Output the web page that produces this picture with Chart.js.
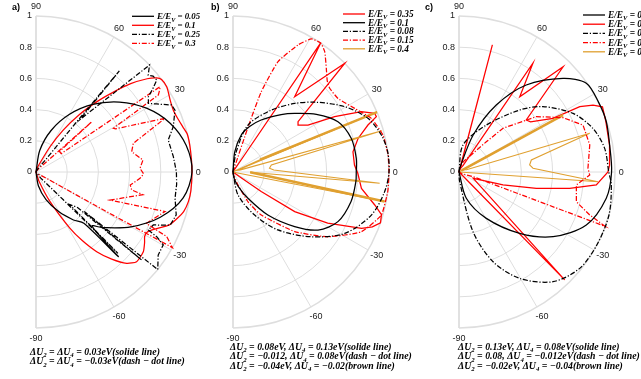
<!DOCTYPE html>
<html>
<head>
<meta charset="utf-8">
<script src="https://cdn.jsdelivr.net/npm/chart.js@4.4.1/dist/chart.umd.min.js"></script>
<style>
  body { margin: 0; background: #fff; width: 641px; height: 379px; overflow: hidden; position: relative; }
  canvas { position: absolute; top: 0; }
</style>
</head>
<body>
<canvas id="ca" width="206" height="379" style="left:0px"></canvas>
<canvas id="cb" width="214" height="379" style="left:206px"></canvas>
<canvas id="cc" width="221" height="379" style="left:420px"></canvas>
<script>
// ---- data: each curve is a list of [angle in degrees, radius] ----
const rTicks = [0, 0.2, 0.4, 0.6, 0.8, 1];
const rTickLabels = ['0', '0.2', '0.4', '0.6', '0.8', '1'];
const angleTicks = [90, 60, 30, 0, -30, -60, -90];
const spokes = [60, 30, 0, -30, -60];

// panel a
const aLegend = ['0.05', '0.1', '0.25', '0.3'];
const aBlackSolid = [[90,0],[80,0.141],[70,0.283],[60,0.425],[50,0.565],[40,0.698],[30,0.818],[20,0.915],[10,0.978],[0,1.0],
  [-10,0.958],[-20,0.848],[-30,0.703],[-40,0.554],[-44,0.5],[-45.8,0.757],[-47,0.45],[-52,0.39],[-60,0.295],[-70,0.188],[-80,0.091],[-90,0]];
const aRedSolid = [[90,0],[75,0.02],[68,0.05],[61,0.185],[57,0.32],[53,0.46],[49,0.6],[46,0.71],[43,0.83],[40,0.93],[38,0.98],[36.4,1.0],
  [33,1.0],[28,0.975],[24,0.965],[21,0.97],[17,0.985],[14,1.0],[8,1.0],[0,1.0],[-7,1.0],[-11,0.995],[-15,0.98],[-18.5,0.95],[-21.6,0.92],
  [-26,0.84],[-28.5,0.81],[-30.7,0.81],[-33,0.83],[-36.6,0.857],[-41.7,0.864],[-45.2,0.825],[-49,0.74],[-52.7,0.642],[-56,0.53],
  [-58.9,0.42],[-64.6,0.21],[-72,0.06],[-90,0]];
const aBlackDash = [[90,0],[62,0.02],[52,0.1],[51,0.4],[50.5,0.84],[50,0.44],[43.3,1.0],[40.8,0.95],[39.3,0.97],[37.3,0.973],[35.5,0.92],
  [33.8,0.867],[31.4,0.844],[29.4,0.888],[26.3,0.97],[24,0.975],[18.3,0.927],[13.6,0.872],[6.4,0.886],[0,0.9],[-5,0.905],[-10.7,0.907],
  [-17,0.94],[-21.6,0.925],[-24.3,0.825],[-27.3,0.81],[-28.2,0.878],[-29.8,0.94],[-34.2,0.947],[-38.7,1.0],[-39.3,0.4],[-39.8,0.88],
  [-40.5,0.35],[-44,0.3],[-44.8,0.74],[-45.5,0.25],[-52,0.05],[-90,0]];
const aRedDash = [[90,0],[55,0.02],[43,0.15],[42,0.48],[41.2,0.2],[36,0.2],[34.5,0.965],[33.5,0.95],[32.2,0.927],[29.5,0.57],[28.5,0.58],
  [22.6,0.896],[16.4,0.65],[12,0.627],[6.4,0.69],[2,0.667],[-1,0.69],[-3.5,0.668],[-7.9,0.61],[-10.6,0.624],[-12,0.7],[-20.8,0.507],
  [-17,0.865],[-25,0.78],[-26.3,0.935],[-29,1.0],[-29.3,0.55],[-29.6,0.3],[-31,0.08],[-60,0.01],[-90,0]];

// panel b
const bLegend = ['0.35', '0.1', '0.08', '0.15', '0.4'];
const bRedSolid = [[90,0],[62,0.01],[56,0.12],[55.8,1.0],[50.7,0.624],[44.2,1.0],[37.7,0.527],[35.8,0.514],[32,0.567],[28.6,0.742],
  [25.2,0.909],[22.5,0.983],[21.1,0.985],[19.2,0.916],[15,0.83],[9.6,0.78],[3.3,0.78],[-0.6,0.8],[-7.3,0.83],[-13.1,0.933],[-16,0.99],
  [-19,1.0],[-21.5,0.96],[-23.7,0.9],[-28.4,0.69],[-32.7,0.47],[-34.8,0.22],[-36,0.05],[-90,0]];
const bBlackSolid = [[90,0],[85,0.13],[77.4,0.243],[70,0.31],[61.6,0.379],[50,0.48],[43.6,0.545],[34.7,0.65],[25.6,0.746],[15.9,0.788],
  [6.4,0.795],[0,0.79],[-4.5,0.79],[-14,0.78],[-25.3,0.744],[-34.3,0.66],[-41.5,0.528],[-51,0.355],[-60.4,0.194],[-70,0.1],[-80,0.04],[-90,0]];
const bBlackDash = [[90,0],[80.8,0.132],[72.3,0.316],[58.2,0.467],[48,0.591],[40,0.696],[30.3,0.83],[21.7,0.931],[14,0.98],[7.5,1.0],[0,1.0],
  [-7.4,0.98],[-17.3,0.929],[-28.8,0.817],[-39.6,0.651],[-52.2,0.47],[-63.3,0.309],[-77.7,0.15],[-90,0]];
const bRedDash = [[90,0],[73,0.02],[71.5,0.3],[70.6,0.546],[67.8,0.764],[62.9,0.915],[59.5,0.99],[55.8,1.0],[52.7,0.97],[48,0.894],
  [44,0.84],[40.9,0.82],[35,0.822],[27.6,0.88],[21.2,0.951],[13.8,0.99],[6.3,1.0],[0,1.0],[-7,1.0],[-16.2,0.99],[-25,0.907],
  [-34.3,0.737],[-44,0.55],[-56.7,0.33],[-63,0.22],[-69,0.09],[-80,0.02],[-90,0]];
const bGold = [[90,0],[26,0.01],[24.5,0.19],[22.6,1.0],[22.3,0.03],[16,0.05],[15.5,0.99],[10.4,0.25],[6,0.235],[2.8,0.262],
  [-4.4,0.943],[-1,0.11],[-11,0.99],[-11.3,0.03],[-90,0]];
const bGoldThickUpper = [[24.5,0.19],[22.6,1.0]];
const bGoldThickLower = [[-1,0.11],[-11,0.99]];

// panel c
const cLegend = ['0.05', '0.1', '0.25', '0.3', '0.4'];
const cBlackSolid = [[90,0],[78,0.03],[69,0.254],[60.9,0.491],[52.3,0.705],[42,0.897],[34.9,0.995],[26.6,1.0],[18.9,0.998],[10.2,0.981],
  [0,0.978],[-10.1,0.959],[-22.6,0.884],[-34.5,0.732],[-45.3,0.553],[-59.5,0.345],[-74.5,0.175],[-90,0]];
const cRedSolid = [[90,0],[76,0.02],[75.3,0.843],[74.3,0.02],[57.5,0.05],[55.8,0.843],[51.1,0.62],[45.3,0.949],[37.7,0.545],[35,0.56],
  [29.7,0.694],[28.4,0.88],[26.5,0.96],[24.4,1.01],[21,1.0],[18.9,0.995],[10,0.98],[2.6,0.966],[0,0.955],[-5.4,0.884],[-8.4,0.717],
  [-12,0.507],[-16.4,0.294],[-24,0.1],[-45.6,0.968],[-45.4,0.05],[-90,0]];
const cBlackDash = [[90,0],[81.5,0.175],[59.8,0.348],[45.6,0.556],[37.9,0.682],[27.2,0.822],[18,0.903],[9.2,0.946],[0,0.96],[-4.9,0.98],
  [-15.9,1.0],[-27.4,1.0],[-38.6,0.99],[-49.4,0.926],[-60.3,0.785],[-69.2,0.615],[-76.8,0.393],[-86,0.062],[-90,0]];
const cRedDash = [[90,0],[70,0.04],[68,0.07],[47.9,0.261],[44.8,0.398],[35.6,0.61],[27.6,0.752],[20.7,0.85],[11.7,0.856],[1.7,0.827],
  [-1.3,0.838],[-6.3,0.757],[-14.2,0.776],[-18.2,0.882],[-20.4,1.0],[-18.5,0.1],[-30,0.02],[-90,0]];
const cGold = [[90,0],[30,0.01],[29.3,0.05],[28.7,0.76],[28.3,0.03],[17,0.05],[16.5,0.874],[9.4,0.47],[5.7,0.455],[2.9,0.475],
  [-4,0.893],[-3.6,0.05],[-90,0]];
const cGoldThick = [[29.5,0.02],[28.7,0.76]];

const aNotes = ['ΔU_2 = ΔU_4 = 0.03eV(solide line)', 'ΔU_2 = ΔU_4 = −0.03eV(dash − dot line)'];
const bNotes = ['ΔU_2 = 0.08eV, ΔU_4 = 0.13eV(solide line)', 'ΔU_2 = −0.012, ΔU_4 = 0.08eV(dash − dot line)',
  'ΔU_2 = −0.04eV, ΔU_4 = −0.02(brown line)'];
const cNotes = ['ΔU_2 = 0.13eV, ΔU_4 = 0.08eV(solide line)', 'ΔU_2 = 0.08, ΔU_4 = −0.012eV(dash − dot line)',
  'ΔU_2 = −0.02eV, ΔU_4 = −0.04(brown line)'];

// ---- styles ----
const DEG = Math.PI / 180;
const UNIT = 156;          // pixels per unit of radius
const POLE_Y = 172;
const GOLD = '#e0a030';
const RED = '#ff0000';
const DASHDOT = [5, 1.8, 1.2, 1.8];
const STYLES = {
  blackSolid: { color: '#000', dash: [], width: 1.25 },
  redSolid: { color: RED, dash: [], width: 1.25 },
  blackDash: { color: '#000', dash: DASHDOT, width: 1.25 },
  redDash: { color: RED, dash: DASHDOT, width: 1.25 },
  gold: { color: GOLD, dash: [], width: 1.1 },
  goldThick: { color: GOLD, dash: [], width: 2.5 }
};

function toXY(pts) {
  return pts.map(([t, r]) => ({ x: r * Math.cos(t * DEG), y: r * Math.sin(t * DEG) }));
}

// draws text where "_X" puts the single char X as a subscript
function rich(ctx, x, y, s, size, weight) {
  let i = 0;
  while (i < s.length) {
    if (s[i] === '_') {
      ctx.font = `italic ${weight} ${size * 0.7}px "Liberation Serif"`;
      ctx.fillText(s[i + 1], x, y + size * 0.25);
      x += ctx.measureText(s[i + 1]).width;
      i += 2;
    } else {
      let j = s.indexOf('_', i);
      if (j < 0) j = s.length;
      const run = s.slice(i, j);
      ctx.font = `italic ${weight} ${size}px "Liberation Serif"`;
      ctx.fillText(run, x, y);
      x += ctx.measureText(run).width;
      i = j;
    }
  }
}

const gridPlugin = {
  id: 'halfPolarGrid',
  beforeDatasetsDraw(chart) {
    const { ctx, scales: { x, y } } = chart;
    const cx = x.getPixelForValue(0), cy = y.getPixelForValue(0);
    const u = x.getPixelForValue(1) - cx;
    ctx.save();
    ctx.strokeStyle = '#dedede';
    rTicks.slice(1).forEach(r => {
      ctx.lineWidth = r === 1 ? 1.5 : 1;
      ctx.beginPath();
      ctx.arc(cx, cy, r * u, -Math.PI / 2, Math.PI / 2);
      ctx.stroke();
    });
    ctx.lineWidth = 1;
    spokes.forEach(a => {
      ctx.beginPath();
      ctx.moveTo(cx, cy);
      ctx.lineTo(x.getPixelForValue(Math.cos(a * DEG)), y.getPixelForValue(Math.sin(a * DEG)));
      ctx.stroke();
    });
    ctx.lineWidth = 1.8;
    ctx.beginPath();
    ctx.moveTo(cx, y.getPixelForValue(1));
    ctx.lineTo(cx, y.getPixelForValue(-1));
    ctx.stroke();

    ctx.fillStyle = '#1a1a1a';
    ctx.font = '9px "Liberation Sans", Arial, sans-serif';
    ctx.textAlign = 'right';
    ctx.textBaseline = 'middle';
    rTicks.forEach((r, i) => ctx.fillText(rTickLabels[i], cx - 4, y.getPixelForValue(r)));
    ctx.textAlign = 'center';
    angleTicks.forEach(a => {
      const rr = a === 0 ? 1.04 : 1.064;
      ctx.fillText(String(a), x.getPixelForValue(rr * Math.cos(a * DEG)), y.getPixelForValue(rr * Math.sin(a * DEG)) + 0.5);
    });
    ctx.restore();
  }
};

function makePanel(canvasId, poleX, series, legend, notes) {
  const canvas = document.getElementById(canvasId);
  const w = canvas.width, h = canvas.height;
  const textPlugin = {
    id: 'panelText',
    afterDatasetsDraw(chart) {
      const ctx = chart.ctx;
      ctx.save();
      ctx.fillStyle = '#000';
      ctx.textBaseline = 'alphabetic';
      ctx.font = 'bold 9px "Liberation Sans", Arial, sans-serif';
      ctx.fillText(legend.tag, legend.tagX, 10);
      legend.rows.forEach((row, i) => {
        const yy = legend.y0 + i * legend.step;
        const st = STYLES[row.style];
        ctx.strokeStyle = st.color;
        ctx.lineWidth = 1.3;
        ctx.setLineDash(st.dash);
        ctx.beginPath();
        ctx.moveTo(legend.x0, yy);
        ctx.lineTo(legend.x0 + 22, yy);
        ctx.stroke();
        ctx.setLineDash([]);
        ctx.fillStyle = '#000';
        rich(ctx, legend.x0 + 25, yy + 3, 'E/E_V = ' + row.label, legend.size, 'bold');
      });
      notes.lines.forEach((s, i) => rich(ctx, notes.x, notes.y0 + i * 9.3 + 3, s, 9.8, 'bold'));
      ctx.restore();
    }
  };
  return new Chart(canvas, {
    type: 'scatter',
    data: {
      datasets: series.map(s => ({
        data: toXY(s.pts),
        showLine: true,
        borderColor: STYLES[s.style].color,
        borderWidth: STYLES[s.style].width,
        borderDash: STYLES[s.style].dash,
        pointRadius: 0,
        tension: s.tension || 0,
        fill: false
      }))
    },
    options: {
      responsive: false,
      animation: false,
      layout: { padding: 0 },
      events: [],
      plugins: { legend: { display: false }, tooltip: { enabled: false } },
      scales: {
        x: { type: 'linear', display: false, min: -poleX / UNIT, max: (w - poleX) / UNIT },
        y: { type: 'linear', display: false, min: -(h - POLE_Y) / UNIT, max: POLE_Y / UNIT }
      }
    },
    plugins: [gridPlugin, textPlugin]
  });
}

makePanel('ca', 36, [
  { pts: aBlackSolid, style: 'blackSolid', tension: 0.3 },
  { pts: aBlackDash, style: 'blackDash' },
  { pts: aRedDash, style: 'redDash' },
  { pts: aRedSolid, style: 'redSolid', tension: 0.2 }
], {
  tag: 'a)', tagX: 12, x0: 132, y0: 16.3, step: 9, size: 8.8,
  rows: aLegend.map((v, i) => ({ label: v, style: ['blackSolid', 'redSolid', 'blackDash', 'redDash'][i] }))
}, { x: 30, y0: 352, lines: aNotes });

makePanel('cb', 27, [
  { pts: bBlackSolid, style: 'blackSolid', tension: 0.3 },
  { pts: bBlackDash, style: 'blackDash', tension: 0.3 },
  { pts: bRedDash, style: 'redDash', tension: 0.15 },
  { pts: bGold, style: 'gold' },
  { pts: bGoldThickUpper, style: 'goldThick' },
  { pts: bGoldThickLower, style: 'goldThick' },
  { pts: bRedSolid, style: 'redSolid' }
], {
  tag: 'b)', tagX: 5, x0: 137, y0: 14, step: 8.7, size: 9.3,
  rows: bLegend.map((v, i) => ({ label: v, style: ['redSolid', 'blackSolid', 'blackDash', 'redDash', 'gold'][i] }))
}, { x: 24, y0: 347, lines: bNotes });

makePanel('cc', 39, [
  { pts: cBlackSolid, style: 'blackSolid', tension: 0.3 },
  { pts: cBlackDash, style: 'blackDash', tension: 0.3 },
  { pts: cRedDash, style: 'redDash' },
  { pts: cGold, style: 'gold' },
  { pts: cGoldThick, style: 'goldThick' },
  { pts: cRedSolid, style: 'redSolid' }
], {
  tag: 'c)', tagX: 5, x0: 163, y0: 15, step: 9.2, size: 9.3,
  rows: cLegend.map((v, i) => ({ label: v, style: ['blackSolid', 'redSolid', 'blackDash', 'redDash', 'gold'][i] }))
}, { x: 38, y0: 347, lines: cNotes });
</script>
</body>
</html>
